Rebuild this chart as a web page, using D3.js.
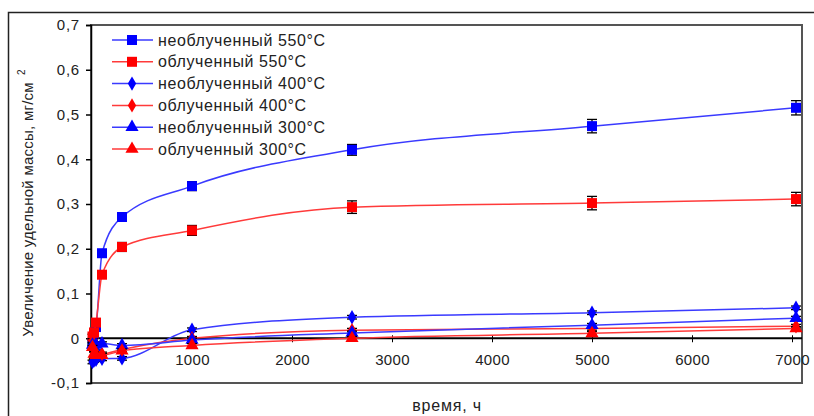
<!DOCTYPE html>
<html>
<head>
<meta charset="utf-8">
<script src="https://cdn.jsdelivr.net/npm/d3@7.9.0/dist/d3.min.js"></script>
<style>
  body { margin: 0; background: #fff; }
  svg { display: block; font-family: "Liberation Sans", Arial, sans-serif; }
</style>
</head>
<body>
<svg id="chart" width="814" height="416"></svg>
<script>
// sampling times, hours
const times = [5, 20, 40, 100, 300, 1000, 2600, 5000, 7040];

// mass gain, mg/cm2
const unirr550 = [-0.01, 0.01, 0.025, 0.19, 0.271, 0.340, 0.421, 0.474, 0.515];
const irr550 = [0.004, 0.013, 0.035, 0.142, 0.204, 0.241, 0.293, 0.302, 0.311];
const unirr400 = [-0.053, -0.05, -0.048, -0.046, -0.045, 0.019, 0.047, 0.057, 0.068];
const irr400 = [-0.005, -0.025, -0.03, -0.035, -0.025, 0.0, 0.018, 0.022, 0.027];
const unirr300 = [-0.015, -0.02, -0.015, -0.012, -0.016, -0.004, 0.012, 0.029, 0.045];
const irr300 = [-0.02, -0.035, -0.038, -0.038, -0.028, -0.016, 0.0, 0.011, 0.022];

// error bar half-widths
const err550u = [0.005, 0.005, 0.006, 0.008, 0.008, 0.010, 0.012, 0.015, 0.016];
const err550i = [0.005, 0.005, 0.006, 0.008, 0.010, 0.011, 0.014, 0.015, 0.015];
const errSmall = [0.004, 0.004, 0.004, 0.004, 0.004, 0.004, 0.004, 0.004, 0.004];

const seriesNames = ['необлученный 550°C', 'облученный 550°C', 'необлученный 400°C',
  'облученный 400°C', 'необлученный 300°C', 'облученный 300°C'];

const xTicks = [0, 1000, 2000, 3000, 4000, 5000, 6000, 7000];
const yTicks = [-0.1, 0, 0.1, 0.2, 0.3, 0.4, 0.5, 0.6, 0.7];

const series = [
  { name: seriesNames[0], values: unirr550, err: err550u, color: '#0000ff', line: '#3a3aff', shape: 'square' },
  { name: seriesNames[1], values: irr550, err: err550i, color: '#ff0000', line: '#ff3a3a', shape: 'square' },
  { name: seriesNames[2], values: unirr400, err: errSmall, color: '#0000ff', line: '#3a3aff', shape: 'diamond' },
  { name: seriesNames[3], values: irr400, err: errSmall, color: '#ff0000', line: '#ff3a3a', shape: 'diamond' },
  { name: seriesNames[4], values: unirr300, err: errSmall, color: '#0000ff', line: '#3a3aff', shape: 'triangle' },
  { name: seriesNames[5], values: irr300, err: errSmall, color: '#ff0000', line: '#ff3a3a', shape: 'triangle' }
];

const svg = d3.select('#chart');
const plotL = 91, plotR = 802, plotT = 25, plotB = 383;

const x = d3.scaleLinear().domain([-10, 7100]).range([plotL, plotR]);
const y = d3.scaleLinear().domain([-0.1, 0.7]).range([plotB, plotT]);

const fmt = (v) => (Math.abs(v) < 1e-9 ? '0' : d3.format('.1f')(v).replace('.', ',').replace('−', '-'));

// outer frame
svg.append('rect')
  .attr('x', 8.5).attr('y', 12.5)
  .attr('width', 830).attr('height', 430)
  .attr('fill', 'none').attr('stroke', '#222').attr('stroke-width', 1.5);

// plot box
svg.append('rect')
  .attr('x', plotL).attr('y', plotT)
  .attr('width', plotR - plotL).attr('height', plotB - plotT)
  .attr('fill', '#fff').attr('stroke', '#555').attr('stroke-width', 2);

// y axis
const yAxis = svg.append('g')
  .attr('transform', `translate(${plotL},0)`)
  .call(d3.axisLeft(y).tickValues(yTicks).tickFormat(fmt).tickSize(5).tickPadding(6));
yAxis.select('.domain').attr('stroke', '#000').attr('stroke-width', 1.5);
yAxis.selectAll('.tick line').attr('stroke', '#000').attr('stroke-width', 1.5);
yAxis.selectAll('text').attr('font-size', 15).attr('fill', '#222').attr('letter-spacing', 0.8)
  .attr('font-family', '"Liberation Sans", Arial, sans-serif');

// x axis sits on zero
const xAxis = svg.append('g')
  .attr('transform', `translate(0,${y(0)})`)
  .call(d3.axisBottom(x).tickValues(xTicks).tickFormat(d3.format('d')).tickSize(4).tickSizeOuter(0).tickPadding(12));
xAxis.select('.domain').attr('stroke', '#000').attr('stroke-width', 2)
  .attr('d', `M${plotL},0H${plotR}`);
xAxis.selectAll('.tick line').attr('stroke', '#000').attr('y1', -3).attr('y2', 4);
xAxis.selectAll('text').attr('font-size', 15).attr('fill', '#222').attr('letter-spacing', 0.3)
  .attr('font-family', '"Liberation Sans", Arial, sans-serif');

// axis titles
svg.append('text')
  .attr('x', 447).attr('y', 411)
  .attr('text-anchor', 'middle')
  .attr('font-size', 16).attr('fill', '#222').attr('letter-spacing', 0.8)
  .text('время, ч');

const yTitle = svg.append('text')
  .attr('transform', 'translate(33,203) rotate(-90)')
  .attr('text-anchor', 'middle')
  .attr('font-size', 15).attr('fill', '#222').attr('letter-spacing', 0.25);
yTitle.append('tspan').text('Увеличение удельной массы, мг/см');
yTitle.append('tspan').attr('dx', 7).attr('dy', -8).attr('font-size', 10).text('2');

const symbolFor = (shape) => ({
  square: d3.symbol(d3.symbolSquare, 100),
  diamond: d3.symbol(d3.symbolDiamond, 60),
  triangle: d3.symbol(d3.symbolTriangle, 75)
}[shape]);

const line = d3.line()
  .x((d) => x(d.t))
  .y((d) => y(d.v))
  .curve(d3.curveMonotoneX);

const plot = svg.append('g');

series.forEach((s) => {
  const pts = times.map((t, i) => ({ t, v: s.values[i], e: s.err[i] }));

  plot.append('path')
    .datum(pts)
    .attr('d', line)
    .attr('fill', 'none')
    .attr('stroke', s.line)
    .attr('stroke-width', 1.5);

  const eb = plot.append('g').attr('stroke', '#000').attr('stroke-width', 1.3);
  pts.forEach((p) => {
    const cx = x(p.t), y1 = y(p.v + p.e), y2 = y(p.v - p.e);
    eb.append('line').attr('x1', cx).attr('x2', cx).attr('y1', y1).attr('y2', y2);
    eb.append('line').attr('x1', cx - 5).attr('x2', cx + 5).attr('y1', y1).attr('y2', y1);
    eb.append('line').attr('x1', cx - 5).attr('x2', cx + 5).attr('y1', y2).attr('y2', y2);
  });

  plot.append('g')
    .selectAll('path')
    .data(pts)
    .enter()
    .append('path')
    .attr('d', symbolFor(s.shape))
    .attr('transform', (d) => `translate(${x(d.t)},${y(d.v)})`)
    .attr('fill', s.color);
});

// legend
const legend = svg.append('g').attr('transform', 'translate(112,40)');
const items = legend.selectAll('g')
  .data(series)
  .enter()
  .append('g')
  .attr('transform', (d, i) => `translate(0,${i * 21.8})`);

items.append('line')
  .attr('x1', 0).attr('x2', 41)
  .attr('stroke', (d) => d.line).attr('stroke-width', 1.5);
items.append('path')
  .attr('d', (d) => symbolFor(d.shape)())
  .attr('transform', 'translate(20,0)')
  .attr('fill', (d) => d.color);
items.append('text')
  .attr('x', 46).attr('y', 5.5)
  .attr('font-size', 16).attr('fill', '#222').attr('letter-spacing', 0.6)
  .text((d) => d.name);
</script>
</body>
</html>
